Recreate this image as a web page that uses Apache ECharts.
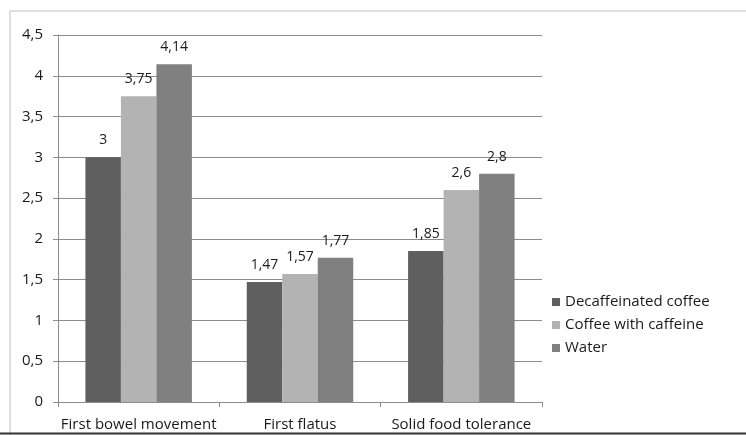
<!DOCTYPE html>
<html>
<head>
<meta charset="utf-8">
<script src="https://cdn.jsdelivr.net/npm/echarts@6/dist/echarts.min.js"></script>
<style>
  html, body { margin: 0; padding: 0; background: #fff; }
  #chart { width: 746px; height: 435px; }
</style>
</head>
<body>
<div id="chart"></div>
<script>
const categories = ['First bowel movement', 'First flatus', 'Solid food tolerance']
const decaf = [3, 1.47, 1.85]
const caffeine = [3.75, 1.57, 2.6]
const water = [4.14, 1.77, 2.8]
const seriesNames = ['Decaffeinated coffee', 'Coffee with caffeine', 'Water']

const fontFamily = '"Open Sans", Lato, sans-serif'
const comma = v => String(v).replace('.', ',')

const chart = echarts.init(document.getElementById('chart'), null, { renderer: 'canvas' })

const makeSeries = (name, data, color) => ({
  name,
  type: 'bar',
  data,
  barGap: '0%',
  barCategoryGap: '34%',
  itemStyle: { color },
  label: {
    show: true,
    position: 'top',
    distance: 10,
    color: '#1a1a1a',
    fontSize: 14,
    fontFamily,
    formatter: p => comma(p.value)
  },
  animation: false
})

const option = {
  backgroundColor: '#fff',
  graphic: [
    {
      type: 'polyline',
      shape: { points: [[10, 435], [10, 11], [746, 11]] },
      style: { stroke: '#d4d4d4', lineWidth: 1.5, fill: null }
    },
    {
      type: 'line',
      shape: { x1: 0, y1: 433.5, x2: 746, y2: 433.5 },
      style: { stroke: '#333', lineWidth: 2 }
    }
  ],
  grid: { left: 58, right: 204, top: 35, bottom: 33 },
  legend: {
    orient: 'vertical',
    left: 547,
    top: 289,
    icon: 'rect',
    itemWidth: 8,
    itemHeight: 8,
    itemGap: 7,
    itemTextGap: 6,
    data: seriesNames,
    textStyle: { color: '#1a1a1a', fontSize: 15, lineHeight: 16, fontFamily }
  },
  xAxis: {
    type: 'category',
    data: categories,
    axisLine: { show: true, lineStyle: { color: '#8c8c8c' } },
    axisTick: { show: true, length: 5, lineStyle: { color: '#8c8c8c' } },
    axisLabel: { color: '#1a1a1a', fontSize: 15, fontFamily, margin: 15, interval: 0 }
  },
  yAxis: {
    type: 'value',
    min: 0,
    max: 4.5,
    interval: 0.5,
    axisLine: { show: true, lineStyle: { color: '#8c8c8c' } },
    axisTick: { show: true, length: 5, lineStyle: { color: '#8c8c8c' } },
    splitLine: { lineStyle: { color: '#8c8c8c', width: 1 } },
    axisLabel: { color: '#1a1a1a', fontSize: 15, fontFamily, margin: 15, formatter: comma }
  },
  series: [
    makeSeries(seriesNames[0], decaf, '#5f5f5f'),
    makeSeries(seriesNames[1], caffeine, '#b3b3b3'),
    makeSeries(seriesNames[2], water, '#808080')
  ]
}

chart.setOption(option)
</script>
</body>
</html>
